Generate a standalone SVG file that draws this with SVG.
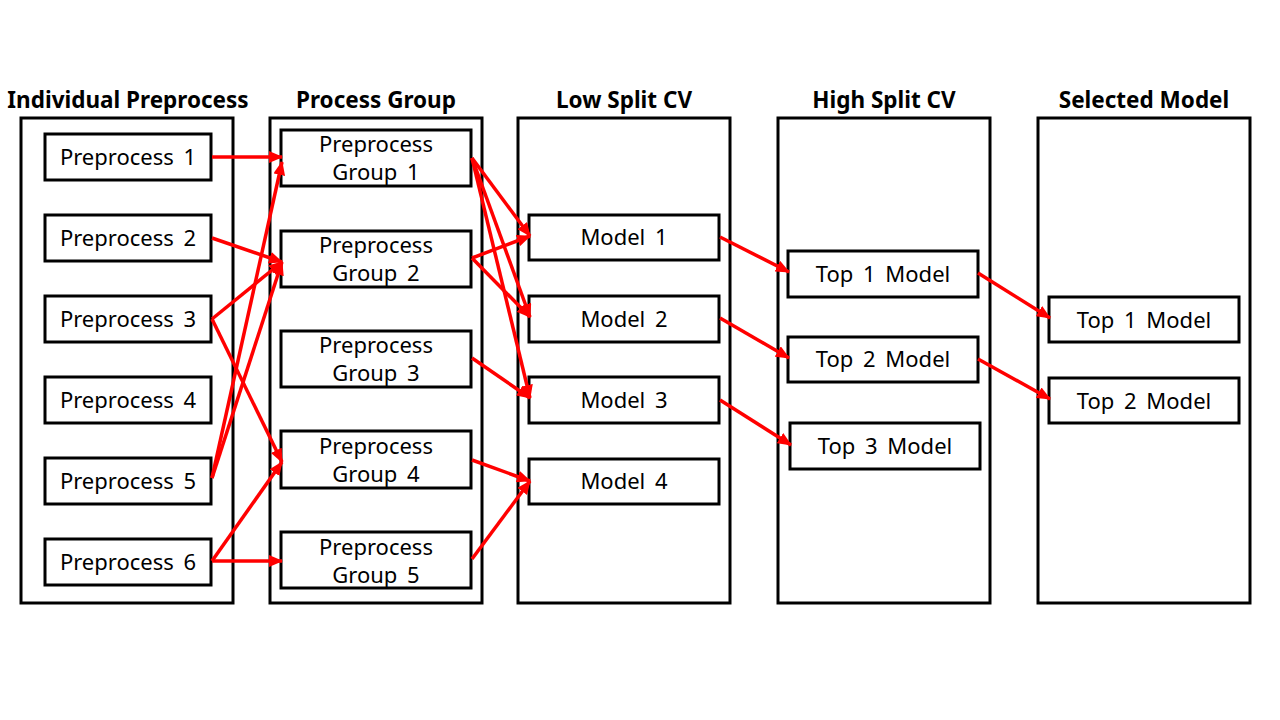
<svg xmlns="http://www.w3.org/2000/svg" width="1280" height="720" viewBox="0 0 1280 720">
<defs>
<marker id="ah" markerUnits="userSpaceOnUse" markerWidth="14" markerHeight="12" viewBox="0 0 14 12" refX="13" refY="6" orient="auto">
<path d="M0,0 L14,6 L0,12 Z" fill="#FF0000"/>
</marker>
</defs>
<style>
.col{fill:none;stroke:#000;stroke-width:3}
.box{fill:#fff;stroke:#000;stroke-width:3}
.hd{font-family:"Noto Sans","Noto Sans CJK KR",sans-serif;font-weight:bold;font-size:22.5px;text-anchor:middle;fill:#000}
.t{font-family:"Noto Sans","Noto Sans CJK KR",sans-serif;font-size:22px;text-anchor:middle;fill:#000;word-spacing:4px}
.a{stroke:#FF0000;stroke-width:3.5;fill:none;marker-end:url(#ah)}
</style>
<rect width="1280" height="720" fill="#fff"/>
<g id="columns">
<rect class="col" x="21" y="118" width="212" height="485"/>
<rect class="col" x="270" y="118" width="212" height="485"/>
<rect class="col" x="518" y="118" width="212" height="485"/>
<rect class="col" x="778" y="118" width="212" height="485"/>
<rect class="col" x="1038" y="118" width="212" height="485"/>
<text class="hd" x="128" y="108">Individual Preprocess</text>
<text class="hd" x="376" y="108">Process Group</text>
<text class="hd" x="624" y="108">Low Split CV</text>
<text class="hd" x="884" y="108">High Split CV</text>
<text class="hd" x="1144" y="108">Selected Model</text>
</g>
<g id="p1"><rect class="box" x="45" y="134" width="166" height="46"/><text class="t" x="128" y="165">Preprocess 1</text></g>
<g id="p2"><rect class="box" x="45" y="215" width="166" height="46"/><text class="t" x="128" y="246">Preprocess 2</text></g>
<g id="p3"><rect class="box" x="45" y="296" width="166" height="46"/><text class="t" x="128" y="327">Preprocess 3</text></g>
<g id="p4"><rect class="box" x="45" y="377" width="166" height="46"/><text class="t" x="128" y="408">Preprocess 4</text></g>
<g id="p5"><rect class="box" x="45" y="458" width="166" height="46"/><text class="t" x="128" y="489">Preprocess 5</text></g>
<g id="p6"><rect class="box" x="45" y="539" width="166" height="46"/><text class="t" x="128" y="570">Preprocess 6</text></g>
<g id="g1"><rect class="box" x="281" y="130" width="190" height="56"/><text class="t" x="376" y="152">Preprocess</text><text class="t" x="376" y="180">Group 1</text></g>
<g id="g2"><rect class="box" x="281" y="231" width="190" height="56"/><text class="t" x="376" y="253">Preprocess</text><text class="t" x="376" y="281">Group 2</text></g>
<g id="g3"><rect class="box" x="281" y="331" width="190" height="56"/><text class="t" x="376" y="353">Preprocess</text><text class="t" x="376" y="381">Group 3</text></g>
<g id="g4"><rect class="box" x="281" y="431" width="190" height="57"/><text class="t" x="376" y="454">Preprocess</text><text class="t" x="376" y="482">Group 4</text></g>
<g id="g5"><rect class="box" x="281" y="532" width="190" height="56"/><text class="t" x="376" y="555">Preprocess</text><text class="t" x="376" y="583">Group 5</text></g>
<g id="m1"><rect class="box" x="529" y="215" width="190" height="45"/><text class="t" x="624" y="245">Model 1</text></g>
<g id="m2"><rect class="box" x="529" y="296" width="190" height="46"/><text class="t" x="624" y="327">Model 2</text></g>
<g id="m3"><rect class="box" x="529" y="377" width="190" height="46"/><text class="t" x="624" y="408">Model 3</text></g>
<g id="m4"><rect class="box" x="529" y="459" width="190" height="45"/><text class="t" x="624" y="489">Model 4</text></g>
<g id="t1"><rect class="box" x="788" y="251" width="190" height="46"/><text class="t" x="883" y="282">Top 1 Model</text></g>
<g id="t2"><rect class="box" x="788" y="337" width="190" height="45"/><text class="t" x="883" y="367">Top 2 Model</text></g>
<g id="t3"><rect class="box" x="790" y="423" width="190" height="46"/><text class="t" x="885" y="454">Top 3 Model</text></g>
<g id="s1"><rect class="box" x="1049" y="297" width="190" height="45"/><text class="t" x="1144" y="328">Top 1 Model</text></g>
<g id="s2"><rect class="box" x="1049" y="378" width="190" height="45"/><text class="t" x="1144" y="409">Top 2 Model</text></g>
<g id="connectors">
<line class="a" x1="212" y1="157" x2="282" y2="157"/>
<line class="a" x1="212" y1="238" x2="282" y2="262"/>
<line class="a" x1="212" y1="319" x2="282" y2="262"/>
<line class="a" x1="212" y1="319" x2="282" y2="462"/>
<line class="a" x1="212" y1="478" x2="282" y2="162"/>
<line class="a" x1="212" y1="478" x2="282" y2="262"/>
<line class="a" x1="212" y1="561" x2="282" y2="462"/>
<line class="a" x1="212" y1="561" x2="282" y2="561"/>
<line class="a" x1="472" y1="158" x2="530" y2="236"/>
<line class="a" x1="472" y1="158" x2="530" y2="317"/>
<line class="a" x1="472" y1="158" x2="530" y2="398"/>
<line class="a" x1="472" y1="258" x2="530" y2="236"/>
<line class="a" x1="472" y1="258" x2="530" y2="317"/>
<line class="a" x1="472" y1="358" x2="530" y2="398"/>
<line class="a" x1="472" y1="460" x2="530" y2="481"/>
<line class="a" x1="472" y1="559" x2="530" y2="481"/>
<line class="a" x1="720" y1="237" x2="789" y2="272"/>
<line class="a" x1="720" y1="318" x2="789" y2="358"/>
<line class="a" x1="720" y1="400" x2="791" y2="445"/>
<line class="a" x1="978" y1="273" x2="1050" y2="318"/>
<line class="a" x1="978" y1="359" x2="1050" y2="399"/>
</g>
</svg>
